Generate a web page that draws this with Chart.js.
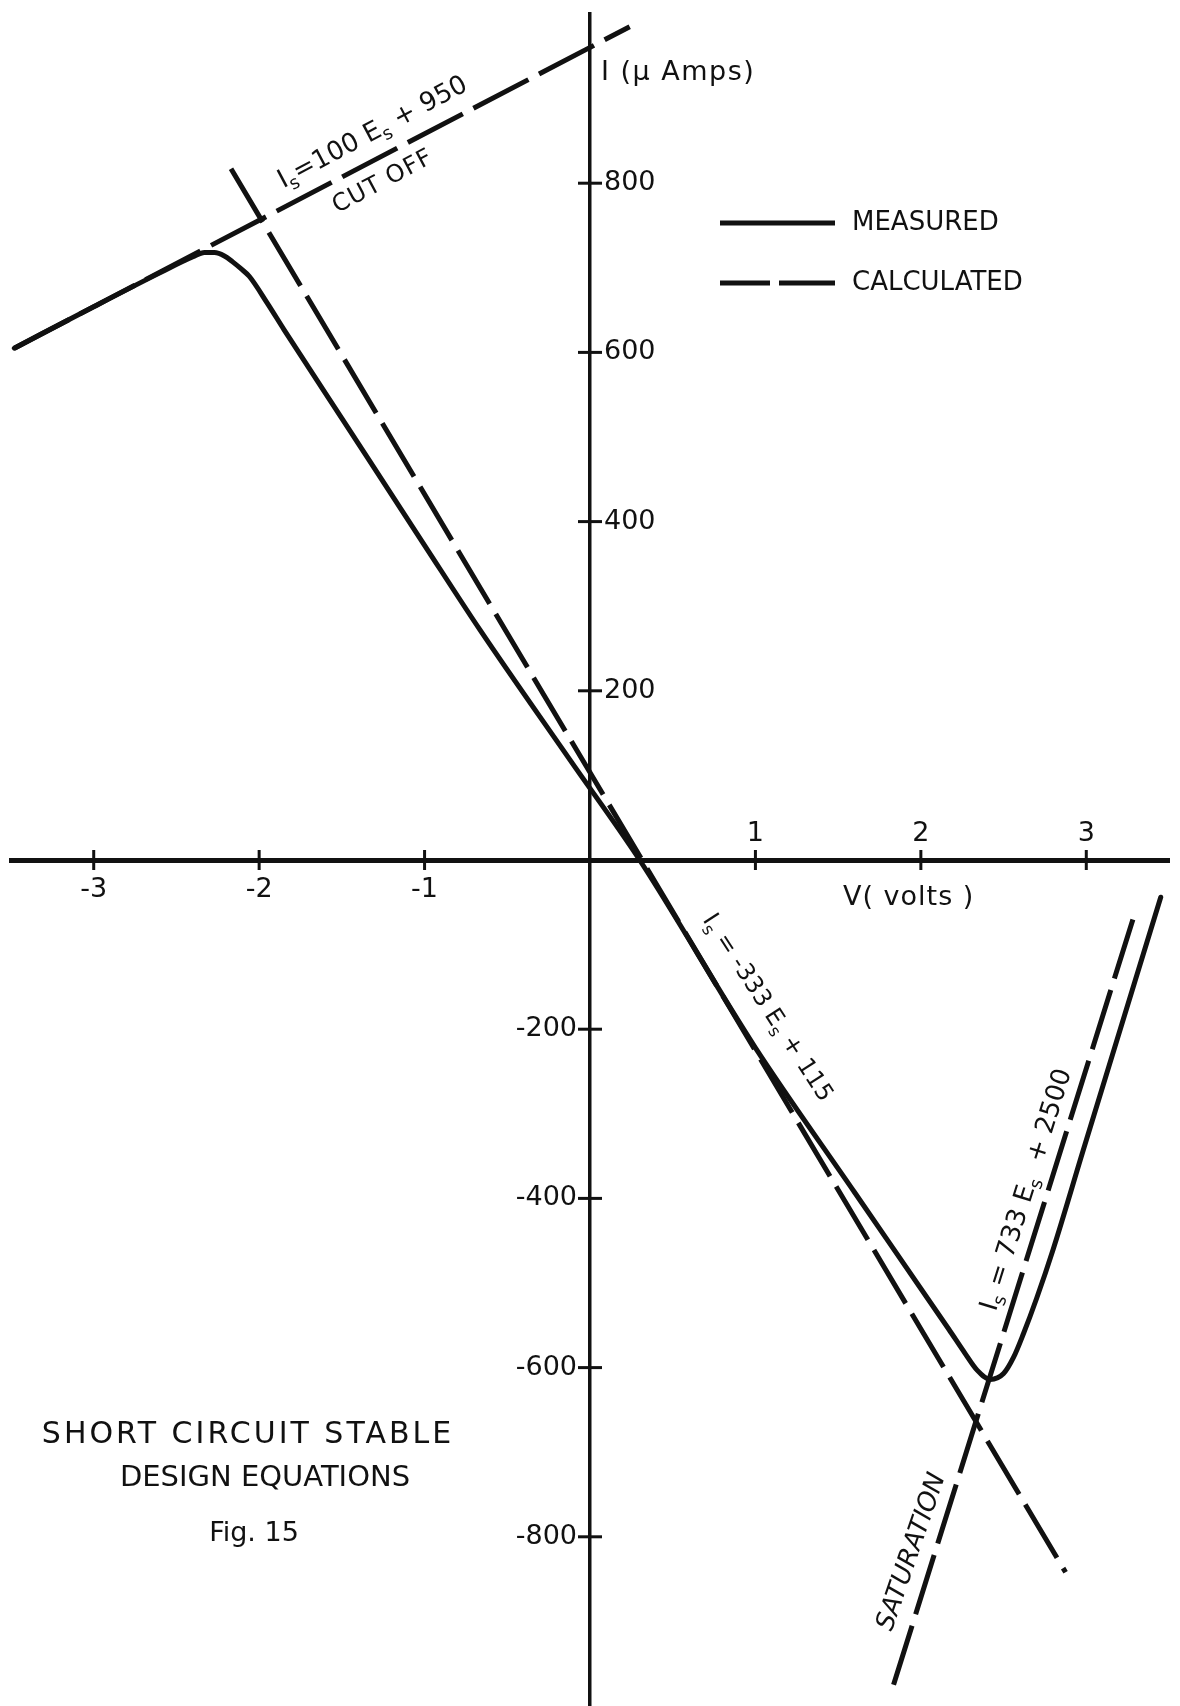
<!DOCTYPE html>
<html>
<head>
<meta charset="utf-8">
<title>Short Circuit Stable Design Equations</title>
<script src="https://cdn.jsdelivr.net/npm/chart.js@4.4.1/dist/chart.umd.min.js"></script>
<style>
  html, body { margin: 0; padding: 0; background: #fff; }
  #chart { display: block; }
</style>
</head>
<body>
<canvas id="chart" width="1180" height="1706"></canvas>
<script>
const FONT = '"DejaVu Sans", sans-serif';
const INK = '#111';

// axis ticks
const xTicks = [-3, -2, -1, 1, 2, 3];
const yTicks = [-800, -600, -400, -200, 200, 400, 600, 800];

// measured curve: volts / micro amps
const measuredV = [-3.48, -3.0, -2.6, -2.40, -2.33, -2.27, -2.21, -2.16, -2.11, -2.06, -1.95, -1.85, -1.5, -1.0,
    -0.665, -0.12, 0.30, 1.00, 1.60, 2.17, 2.27, 2.34, 2.42, 2.50, 2.56, 2.62, 2.70, 2.80, 2.98, 3.45];
const measuredI = [605, 654, 694, 713, 718, 718, 714, 707, 699, 690, 658, 627, 522, 372,
    272, 118, 0, -222, -393, -555, -584, -603, -614, -607, -588, -560, -518, -460, -344, -44];

// calculated design lines
const cutoffV = [-3.48, 0.24];
const cutoffI = [605, 985];
const linearV = [-2.17, 2.875];
const linearI = [817, -842];
const saturationV = [1.835, 3.29];
const saturationI = [-975, -65];

function toPoints(xs, ys) {
    return xs.map((x, i) => ({ x: x, y: ys[i] }));
}

// text made of runs, some of them subscripts, centred and rotated
function drawRuns(ctx, runs, cx, cy, angle, size, style, spacing) {
    const fontFor = (s) => `${style || ''} ${s}px ${FONT}`;
    ctx.letterSpacing = (spacing || 0) + 'px';
    let total = 0;
    runs.forEach(r => {
        ctx.font = fontFor(r.sub ? size * 0.7 : size);
        total += ctx.measureText(r.t).width;
    });
    ctx.save();
    ctx.translate(cx, cy);
    ctx.rotate(angle * Math.PI / 180);
    ctx.textAlign = 'left';
    ctx.textBaseline = 'middle';
    let x = -total / 2;
    runs.forEach(r => {
        const s = r.sub ? size * 0.7 : size;
        ctx.font = fontFor(s);
        ctx.fillText(r.t, x, r.sub ? size * 0.32 : 0);
        x += ctx.measureText(r.t).width;
    });
    ctx.restore();
    ctx.letterSpacing = '0px';
}

function drawText(ctx, text, x, y, size, align, spacing) {
    ctx.font = `${size}px ${FONT}`;
    ctx.textAlign = align || 'left';
    ctx.textBaseline = 'middle';
    ctx.letterSpacing = (spacing || 0) + 'px';
    ctx.fillText(text, x, y);
    ctx.letterSpacing = '0px';
}

const paperPlugin = {
    id: 'paper',
    beforeDraw(chart) {
        const ctx = chart.ctx;
        ctx.save();
        ctx.fillStyle = '#fff';
        ctx.fillRect(0, 0, chart.width, chart.height);
        ctx.restore();
    },
    afterDraw(chart) {
        const ctx = chart.ctx;
        const xs = chart.scales.x;
        const ys = chart.scales.y;
        const x0 = xs.getPixelForValue(0);
        const y0 = ys.getPixelForValue(0);

        ctx.save();
        ctx.strokeStyle = INK;
        ctx.fillStyle = INK;
        ctx.lineWidth = 3;

        // crossing tick marks and labels
        xTicks.forEach(v => {
            const px = xs.getPixelForValue(v);
            ctx.beginPath();
            ctx.moveTo(px, y0 - 10);
            ctx.lineTo(px, y0 + 10);
            ctx.stroke();
            drawText(ctx, String(v), px, v < 0 ? y0 + 30 : y0 - 26, 27, 'center');
        });
        yTicks.forEach(v => {
            const py = ys.getPixelForValue(v);
            ctx.beginPath();
            ctx.moveTo(x0 - 12, py);
            ctx.lineTo(x0 + 12, py);
            ctx.stroke();
            if (v > 0) {
                drawText(ctx, String(v), x0 + 14, py, 27, 'left');
            } else {
                drawText(ctx, String(v), x0 - 13, py, 27, 'right');
            }
        });

        // axis titles
        drawText(ctx, 'I (\u03bc Amps)', 601, 73, 27, 'left', 1.5);
        drawText(ctx, 'V( volts )', 843, 898, 27, 'left', 1);

        // legend
        ctx.lineWidth = 5;
        ctx.beginPath();
        ctx.moveTo(720, 223);
        ctx.lineTo(835, 223);
        ctx.stroke();
        ctx.beginPath();
        ctx.moveTo(720, 283);
        ctx.lineTo(770, 283);
        ctx.moveTo(779, 283);
        ctx.lineTo(835, 283);
        ctx.stroke();
        drawText(ctx, 'MEASURED', 852, 223, 26, 'left');
        drawText(ctx, 'CALCULATED', 852, 283, 26, 'left');

        // equations along the lines
        drawRuns(ctx, [{ t: 'I' }, { t: 's', sub: true }, { t: '=100 E' }, { t: 's', sub: true }, { t: ' + 950' }],
            373, 133, -28, 26);
        drawRuns(ctx, [{ t: 'CUT OFF' }], 383, 182, -28, 24, '', 1);
        drawRuns(ctx, [{ t: 'I' }, { t: 's', sub: true }, { t: ' = -333 E' }, { t: 's', sub: true }, { t: ' + 115' }],
            767, 1008, 57, 24);
        drawRuns(ctx, [{ t: 'I' }, { t: 's', sub: true }, { t: ' = 733 E' }, { t: 's', sub: true }, { t: '  + 2500' }],
            1027, 1190, -72.6, 26);
        drawRuns(ctx, [{ t: 'SATURATION' }], 912, 1552, -71, 26, 'italic');

        // figure caption
        drawText(ctx, 'SHORT CIRCUIT STABLE', 248, 1435, 30, 'center', 3);
        drawText(ctx, 'DESIGN EQUATIONS', 265, 1478, 29, 'center');
        drawText(ctx, 'Fig. 15', 254, 1534, 27, 'center');

        ctx.restore();
    }
};

const calcStyle = {
    borderColor: INK,
    borderWidth: 5,
    borderDash: [62, 12],
    showLine: true,
    pointRadius: 0,
    order: 1
};

new Chart(document.getElementById('chart'), {
    type: 'scatter',
    data: {
        datasets: [
            {
                label: 'MEASURED',
                data: toPoints(measuredV, measuredI),
                borderColor: INK,
                borderWidth: 5,
                borderCapStyle: 'round',
                borderJoinStyle: 'round',
                showLine: true,
                cubicInterpolationMode: 'monotone',
                pointRadius: 0,
                order: 0
            },
            Object.assign({ label: 'CUT OFF', data: toPoints(cutoffV, cutoffI) }, calcStyle),
            Object.assign({ label: 'LINEAR', data: toPoints(linearV, linearI) }, calcStyle),
            Object.assign({ label: 'SATURATION', data: toPoints(saturationV, saturationI) }, calcStyle)
        ]
    },
    options: {
        responsive: false,
        animation: false,
        layout: { padding: { left: 11, right: 11, top: 14, bottom: 0 } },
        plugins: {
            legend: { display: false },
            tooltip: { enabled: false }
        },
        scales: {
            x: {
                type: 'linear',
                min: -3.5,
                max: 3.5,
                position: { y: 0 },
                grid: { display: false },
                ticks: { display: false },
                border: { color: INK, width: 5 }
            },
            y: {
                type: 'linear',
                min: -1000,
                max: 1000,
                position: { x: 0 },
                grid: { display: false },
                ticks: { display: false },
                border: { color: INK, width: 3.5 }
            }
        }
    },
    plugins: [paperPlugin]
});
</script>
</body>
</html>
